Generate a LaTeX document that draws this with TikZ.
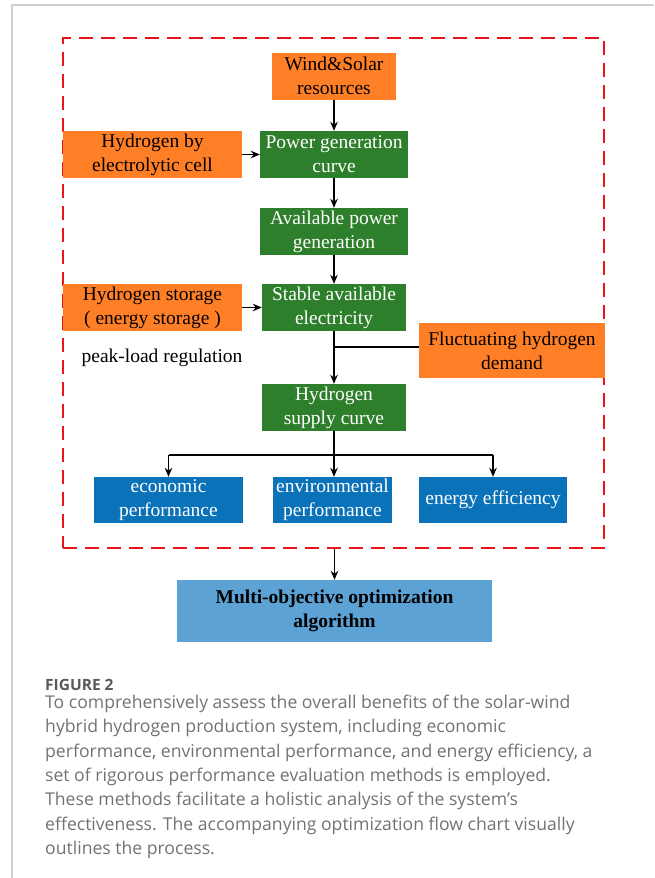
\documentclass[tikz,border=0pt]{standalone}
\usepackage{fontspec}
\setmainfont{Liberation Serif}
\newfontfamily\capfont{Open Sans}
\usetikzlibrary{arrows.meta,calc}
\definecolor{orangeC}{HTML}{FF7F27}
\definecolor{greenC}{HTML}{2E7F2B}
\definecolor{blueC}{HTML}{0A72B8}
\definecolor{lightblueC}{HTML}{5CA2D5}
\definecolor{redC}{HTML}{E8141C}
\definecolor{frameC}{HTML}{D0D0D0}
\definecolor{capC}{HTML}{727272}
\definecolor{figC}{HTML}{5A5A5A}
\tikzset{
  boxbase/.style={inner sep=0pt, align=center, font=\fontsize{19.5}{24}\selectfont},
  obox/.style={boxbase, fill=orangeC, text=black},
  gbox/.style={boxbase, fill=greenC, text=white},
  bbox/.style={boxbase, fill=blueC, text=white},
  conn/.style={line width=1.5pt, draw=black},
  arr/.style={conn, -{Stealth[length=9pt,width=7.5pt]}},
  capline/.style={anchor=base west, inner sep=0pt, text=capC, font=\capfont\fontsize{17.6}{24}\selectfont},
}
\begin{document}
\begin{tikzpicture}[x=1pt,y=-1pt]
\useasboundingbox (0,0) rectangle (654,878);
% outer gray frame
\draw[frameC, line width=1.5pt] (12,878) -- (12,5) -- (654,5);
% red dashed frame
\node[draw=redC, line width=2pt, dash pattern=on 14pt off 8pt, minimum width=541pt, minimum height=510pt, inner sep=0pt] (frame) at (333.5,293) {};
% nodes
\node[obox, minimum width=124pt, minimum height=47pt] (wind) at (334,76) {Wind\&Solar\\resources};
\node[obox, minimum width=179pt, minimum height=47pt] (hcell) at (152.5,154.5) {Hydrogen by\\electrolytic cell};
\node[gbox, minimum width=148pt, minimum height=47pt] (power) at (334,154.5) {Power generation\\curve};
\node[gbox, minimum width=148pt, minimum height=47pt] (avail) at (334,231.5) {Available power\\generation};
\node[obox, minimum width=179pt, minimum height=47pt] (hstore) at (152.5,307.5) {Hydrogen storage\\( energy storage )};
\node[gbox, minimum width=144pt, minimum height=47pt] (stable) at (334,307.5) {Stable available\\electricity};
\node[boxbase, text=black] (peak) at (162,358) {peak-load regulation};
\node[obox, minimum width=186pt, minimum height=55pt] (fluct) at (512,350.5) {Fluctuating hydrogen\\demand};
\node[gbox, minimum width=144pt, minimum height=47pt] (supply) at (334,407.5) {Hydrogen\\supply curve};
\node[bbox, minimum width=149pt, minimum height=46pt] (eco) at (168.5,500) {economic\\performance};
\node[bbox, minimum width=119pt, minimum height=46pt] (env) at (332.5,500) {environmental\\performance};
\node[bbox, minimum width=148pt, minimum height=46pt] (eff) at (493,500) {energy efficiency};
\node[boxbase, fill=lightblueC, text=black, minimum width=315pt, minimum height=62pt, font=\fontsize{19.5}{24}\selectfont\bfseries] (multi) at (334.5,611) {Multi-objective optimization\\algorithm};
% connectors
\draw[arr] (wind.south) -- (power.north);
\draw[arr] (hcell.east) -- (power.west);
\draw[arr] (power.south) -- (avail.north);
\draw[arr] (avail.south) -- (stable.north);
\draw[arr] (hstore.east) -- (stable.west);
\draw[arr] (stable.south) -- (supply.north);
\draw[conn] (fluct.west |- 0,347) coordinate (fl) -- (fl -| stable.south);
\coordinate (br) at (334,455);
\draw[conn] (supply.south) -- (br);
\draw[conn] (br -| eco.north) -- (br -| eff.north);
\draw[arr] (br -| eco.north) -- (eco.north);
\draw[arr] (br) -- (br |- env.north);
\draw[arr] (br -| eff.north) -- (eff.north);
\draw[arr] (multi.north |- frame.south) -- (multi.north);
% caption
\node[anchor=base west, inner sep=0pt, text=figC, font=\capfont\fontsize{15.5}{24}\selectfont\bfseries] (fig) at (45,690) {FIGURE 2};
\node[capline] (c1) at (45,708) {To comprehensively assess the overall benefits of the solar-wind};
\node[capline] (c2) at (45,732.5) {hybrid hydrogen production system, including economic};
\node[capline] (c3) at (45,757) {performance, environmental performance, and energy efficiency, a};
\node[capline] (c4) at (45,781) {set of rigorous performance evaluation methods is employed.};
\node[capline] (c5) at (45,805.5) {These methods facilitate a holistic analysis of the system’s};
\node[capline] (c6) at (45,830) {effectiveness. The accompanying optimization flow chart visually};
\node[capline] (c7) at (45,854) {outlines the process.};
\end{tikzpicture}
\end{document}
